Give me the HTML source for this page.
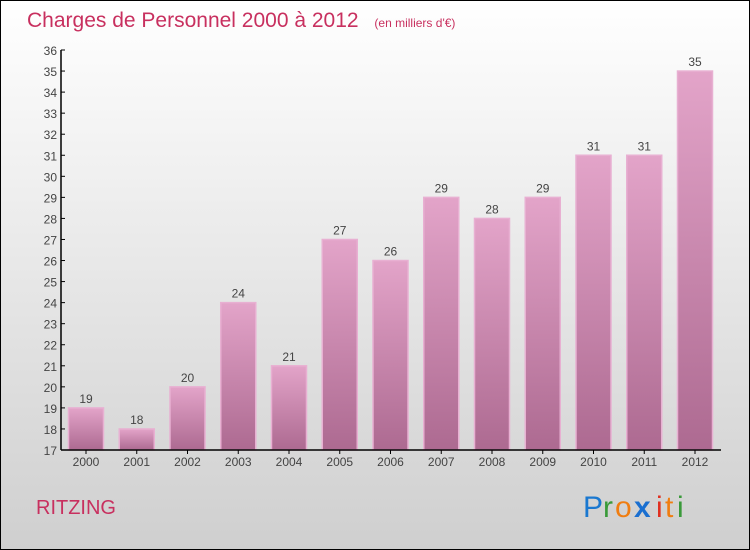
<!DOCTYPE html>
<html><head><meta charset="utf-8"><style>
body{margin:0}
svg{display:block;font-family:"Liberation Sans",sans-serif}
</style></head><body>
<svg width="750" height="550">
<defs>
<linearGradient id="bg" x1="0" y1="0" x2="0" y2="1"><stop offset="0" stop-color="#ffffff"/><stop offset="1" stop-color="#cfcfcf"/></linearGradient>
<linearGradient id="bar" x1="0" y1="0" x2="0" y2="1"><stop offset="0" stop-color="#e3a4c9"/><stop offset="1" stop-color="#ad6a91"/></linearGradient>
</defs>
<rect x="0.5" y="0.5" width="749" height="549" fill="url(#bg)" stroke="#000"/>
<text x="27" y="27" font-size="21" fill="#c8305f">Charges de Personnel 2000 à 2012 <tspan font-size="12" dx="10">(en milliers d'€)</tspan></text>
<g id="plot"></g>
<text x="36" y="514" font-size="20" fill="#c8305f">RITZING</text>
<g font-size="30" font-family="'Liberation Sans',sans-serif">
<text x="583" y="517" fill="#1a78d0">P</text><text x="603" y="517" fill="#3a9a3a">r</text><text x="615" y="517" fill="#f07d10">o</text><text x="634" y="517" fill="#1a6fd0" font-weight="bold">x</text><text x="656" y="517" fill="#e03020">i</text><text x="665" y="517" fill="#f07d10">t</text><text x="677" y="517" fill="#3a9a3a">i</text>
</g>
</svg>
<script>
const categories=["2000","2001","2002","2003","2004","2005","2006","2007","2008","2009","2010","2011","2012"];
const values=[19,18,20,24,21,27,26,29,28,29,31,31,35];
const yTicks=[17,18,19,20,21,22,23,24,25,26,27,28,29,30,31,32,33,34,35,36];
const ns="http://www.w3.org/2000/svg";
const g=document.getElementById('plot');
const y0=17,y1=36,plotTop=50,plotBot=450,axX=61;
const ys=v=>plotBot-(v-y0)/(y1-y0)*(plotBot-plotTop);
const xs=i=>86+i*50.75;
function mk(t,a,p){const e=document.createElementNS(ns,t);for(const k in a)e.setAttribute(k,a[k]);(p||g).appendChild(e);return e;}
yTicks.forEach(v=>{
 const t=mk('text',{x:axX-4,y:ys(v)+5,'font-size':12,fill:'#444','text-anchor':'end'});t.textContent=v;
 
 
 mk('line',{x1:axX,x2:axX+4,y1:ys(v),y2:ys(v),stroke:'#000'});
});
categories.forEach((c,i)=>{
 const x=xs(i),v=values[i];
 const r=mk('rect',{x:x-17.5,y:ys(v),width:35,height:plotBot-ys(v),fill:'url(#bar)',stroke:'#e8b0d2','stroke-width':1.5});
 
 
 const l=mk('text',{x:x,y:ys(v)-5,'font-size':12,fill:'#444','text-anchor':'middle'});l.textContent=v;
 
 
 const xl=mk('text',{x:x,y:plotBot+16,'font-size':12,fill:'#444','text-anchor':'middle'});xl.textContent=c;
 
 
 mk('line',{x1:x,x2:x,y1:plotBot,y2:plotBot+4,stroke:'#000'});
});
const ya=mk('line',{x1:axX,x2:axX,y1:plotTop,y2:plotBot,stroke:'#000','stroke-width':1.5});


const xa=mk('line',{x1:axX,x2:721,y1:plotBot,y2:plotBot,stroke:'#000','stroke-width':1.5});


</script>
</body></html>
